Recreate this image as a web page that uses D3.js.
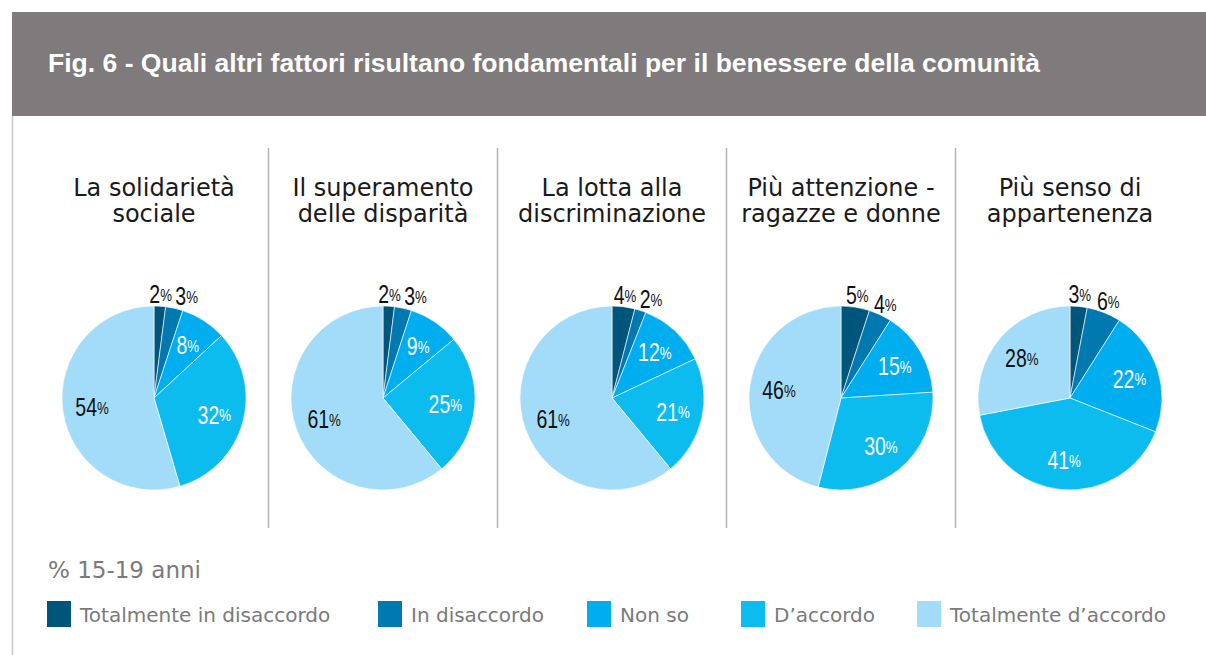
<!DOCTYPE html>
<html>
<head>
<meta charset="utf-8">
<script src="https://cdn.jsdelivr.net/npm/d3@7"></script>
<style>
  body { margin:0; background:#fff; }
  svg { display:block; }
</style>
</head>
<body>
<div id="container"></div>
<script>
/* DATA */
const categories = ["Totalmente in disaccordo", "In disaccordo", "Non so", "D\u2019accordo", "Totalmente d\u2019accordo"];
const colors = ["#00557a", "#0079b0", "#00adee", "#0dbcef", "#a3dcf8"];
const pieTitles = [
  ["La solidarietà", "sociale"],
  ["Il superamento", "delle disparità"],
  ["La lotta alla", "discriminazione"],
  ["Più attenzione -", "ragazze e donne"],
  ["Più senso di", "appartenenza"]
];
const solidarieta   = [2, 3, 8, 32, 54];
const disparita     = [2, 3, 9, 25, 61];
const discriminaz   = [4, 2, 12, 21, 61];
const ragazzeDonne  = [5, 4, 15, 30, 46];
const appartenenza  = [3, 6, 22, 41, 28];
const series = [solidarieta, disparita, discriminaz, ragazzeDonne, appartenenza];

/* CONSTANTS */
const width = 1206, height = 655;
const R = 92;
const labelColor = ["#111", "#111", "#fff", "#fff", "#111"];
const sansWide = "DejaVu Sans, Verdana, sans-serif";

const svg = d3.select("#container").append("svg")
  .attr("width", width).attr("height", height);

// header band
svg.append("rect").attr("x", 12).attr("y", 12).attr("width", width - 12).attr("height", 104)
  .attr("fill", "#7f7a7b");
svg.append("line").attr("x1", 12.5).attr("x2", 12.5).attr("y1", 116).attr("y2", height)
  .attr("stroke", "#c8c8c8").attr("stroke-width", 1.5);
svg.append("text")
  .attr("x", 48).attr("y", 72)
  .attr("fill", "#fff")
  .attr("font-family", "Liberation Sans, Arial, sans-serif")
  .attr("font-weight", "bold")
  .attr("font-size", "26px")
  .attr("textLength", 992)
  .attr("lengthAdjust", "spacingAndGlyphs")
  .text("Fig. 6 - Quali altri fattori risultano fondamentali per il benessere della comunità");

/* SCALES */
const xScale = d3.scalePoint()
  .domain(d3.range(series.length))
  .range([154, 1070]);

const pie = d3.pie().sort(null).value(d => d);
const arc = d3.arc().innerRadius(0).outerRadius(R);
const inArc = d3.arc().innerRadius(R * 0.68).outerRadius(R * 0.68);
const outArc = d3.arc().innerRadius(R + 12).outerRadius(R + 12);

// dividers
d3.range(series.length - 1).forEach(i => {
  const x = (xScale(i) + xScale(i + 1)) / 2;
  svg.append("line").attr("x1", x).attr("x2", x).attr("y1", 148).attr("y2", 528)
    .attr("stroke", "#b5b5b5").attr("stroke-width", 1.5);
});

series.forEach((vals, i) => {
  const cx = xScale(i), cy = 398;
  const g = svg.append("g").attr("transform", `translate(${cx},${cy})`);

  // title
  const t = svg.append("text")
    .attr("text-anchor", "middle")
    .attr("font-family", sansWide)
    .attr("font-size", "24px")
    .attr("fill", "#1a1a1a");
  pieTitles[i].forEach((line, j) => {
    t.append("tspan").attr("x", cx).attr("y", 196 + j * 26).text(line);
  });

  const arcs = pie(vals);
  g.selectAll("path")
    .data(arcs)
    .join("path")
    .attr("d", arc)
    .attr("fill", (d, k) => colors[k])
    .attr("stroke", "#fff")
    .attr("stroke-width", 0.6);

  // labels (condensed look via horizontal squeeze)
  let lastRight = -Infinity;
  arcs.forEach((d, k) => {
    const outside = d.data < 7;
    let [lx, ly] = outside ? outArc.centroid(d) : inArc.centroid(d);
    if (outside) {
      if (lx - 12 < lastRight + 2) lx = lastRight + 14;
      lastRight = lx + 12;
    }
    const lab = g.append("text")
      .attr("transform", `translate(${lx},${ly}) scale(0.78,1)`)
      .attr("text-anchor", "middle")
      .attr("dominant-baseline", "central")
      .attr("font-family", "Liberation Sans, Arial, sans-serif")
      .attr("fill", labelColor[k]);
    lab.append("tspan").attr("font-size", "25px").text(d.data);
    lab.append("tspan").attr("font-size", "17px").text("%");
  });
});

/* LEGEND */
svg.append("text")
  .attr("x", 48).attr("y", 578)
  .attr("fill", "#7a7a7a")
  .attr("font-family", sansWide)
  .attr("font-size", "23px")
  .text("% 15-19 anni");

const legendX = [47, 378, 587, 741, 917];
const legend = svg.selectAll("g.legend")
  .data(categories)
  .join("g")
  .attr("class", "legend")
  .attr("transform", (d, i) => `translate(${legendX[i]},601)`);
legend.append("rect")
  .attr("width", 24).attr("height", 26)
  .attr("fill", (d, i) => colors[i]);
legend.append("text")
  .attr("x", 33).attr("y", 21)
  .attr("fill", "#7a7a7a")
  .attr("font-family", sansWide)
  .attr("font-size", "20px")
  .text(d => d);
</script>
</body>
</html>
